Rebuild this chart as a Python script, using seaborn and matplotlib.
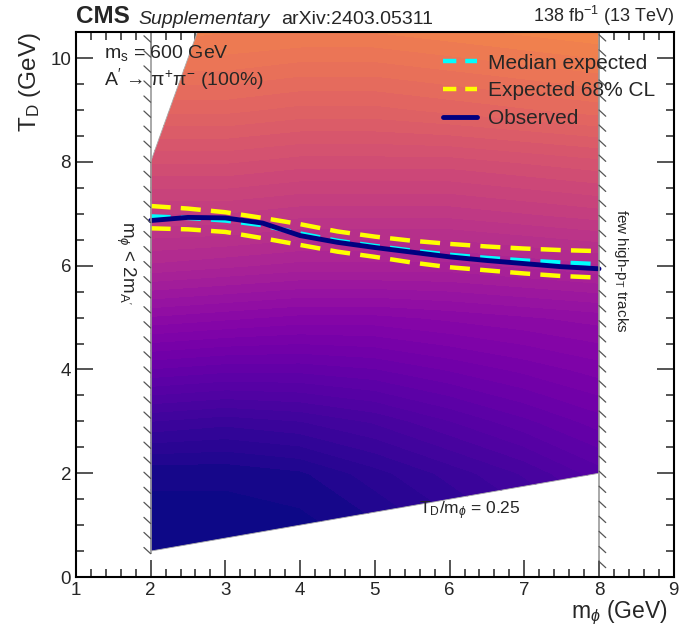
import numpy as np
import pandas as pd
import matplotlib
matplotlib.use("Agg")
import matplotlib.pyplot as plt
from matplotlib.patches import Polygon
from matplotlib.lines import Line2D
import seaborn as sns

# ---------------- data ----------------
m_phi = [2, 2.5, 3, 3.5, 4, 4.5, 5, 5.5, 6, 6.5, 7, 7.5, 8]
observed = [6.87, 6.93, 6.92, 6.82, 6.58, 6.45, 6.35, 6.26, 6.17, 6.10, 6.04, 5.98, 5.94]
median_exp = [6.95, 6.92, 6.87, 6.78, 6.62, 6.48, 6.38, 6.29, 6.21, 6.15, 6.10, 6.06, 6.03]
exp_up = [7.15, 7.10, 7.03, 6.92, 6.80, 6.66, 6.56, 6.48, 6.42, 6.37, 6.33, 6.30, 6.28]
exp_down = [6.72, 6.70, 6.65, 6.53, 6.40, 6.27, 6.17, 6.06, 5.97, 5.91, 5.85, 5.80, 5.77]

# colour field (relative limit level) on a coarse grid
grid_m = [2, 3, 4, 5, 6, 7, 8]
grid_T = [0, 1, 2, 3, 4, 5, 6, 7, 8, 9, 10, 10.5]
field = [
    [0.00, 0.00, 0.00, 0.01, 0.03, 0.06, 0.09],
    [0.00, 0.00, 0.00, 0.02, 0.05, 0.08, 0.11],
    [0.01, 0.01, 0.02, 0.05, 0.08, 0.11, 0.15],
    [0.09, 0.08, 0.09, 0.11, 0.14, 0.17, 0.20],
    [0.19, 0.18, 0.18, 0.19, 0.21, 0.23, 0.25],
    [0.29, 0.28, 0.27, 0.27, 0.28, 0.29, 0.30],
    [0.39, 0.38, 0.37, 0.37, 0.37, 0.38, 0.39],
    [0.46, 0.46, 0.45, 0.45, 0.45, 0.46, 0.47],
    [0.53, 0.53, 0.52, 0.52, 0.52, 0.53, 0.54],
    [0.60, 0.60, 0.59, 0.59, 0.60, 0.61, 0.62],
    [0.66, 0.66, 0.65, 0.65, 0.66, 0.67, 0.68],
    [0.69, 0.68, 0.68, 0.68, 0.69, 0.70, 0.71],
]

# ---------------- style ----------------
sns.set_theme(style="ticks")
plt.rcParams["font.family"] = ["Liberation Sans", "DejaVu Sans"]
plt.rcParams["mathtext.fontset"] = "custom"
plt.rcParams["mathtext.rm"] = "Liberation Sans"
plt.rcParams["mathtext.it"] = "Liberation Sans:italic"
plt.rcParams["mathtext.bf"] = "Liberation Sans:bold"
plt.rcParams["mathtext.sf"] = "Liberation Sans"

fig = plt.figure(figsize=(6.84, 6.27), dpi=100)
ax = fig.add_axes([0.111, 0.0797, 0.874, 0.869])

# colour field clipped to the allowed region
clip = Polygon([(2, 0.5), (8, 2.0), (8, 10.5), (2.625, 10.5), (2, 8.0)],
               closed=True, facecolor="none", edgecolor="none", transform=ax.transData)
ax.add_patch(clip)
cs = ax.contourf(grid_m, grid_T, np.array(field), levels=np.linspace(-0.01, 1, 61),
                 cmap="plasma", vmin=0, vmax=1)
cs.set_edgecolor("face")
cs.set_linewidth(0.6)
cs.set_clip_path(clip)

# limit curves
df = pd.DataFrame({"m": m_phi, "obs": observed, "med": median_exp,
                   "up": exp_up, "down": exp_down})
dash_y = (4.5, 2.3)
sns.lineplot(data=df, x="m", y="up", ax=ax, color="#ffff00", lw=3.2,
             estimator=None, sort=False).lines[-1].set_dashes(dash_y)
sns.lineplot(data=df, x="m", y="down", ax=ax, color="#ffff00", lw=3.2,
             estimator=None, sort=False).lines[-1].set_dashes(dash_y)
sns.lineplot(data=df, x="m", y="med", ax=ax, color="#00ffff", lw=3.2,
             estimator=None, sort=False).lines[-1].set_dashes(dash_y)
sns.lineplot(data=df, x="m", y="obs", ax=ax, color="#000080", lw=3.5,
             estimator=None, sort=False)
for ln in ax.lines:
    ln.set_solid_joinstyle("round")
    ln.set_dash_joinstyle("round")

# hatched exclusion boundaries
def hatch_vline(x, y0, y1, side):
    ax.plot([x, x], [y0, y1], color="#999999", lw=1.2, solid_capstyle="butt")
    ys = np.arange(y0, y1 + 1e-6, 0.29)
    dx, dy = 0.09, 0.12
    for y in ys:
        if side < 0:
            ax.plot([x, x - dx], [y, y + dy], color="#555555", lw=0.9)
        else:
            ax.plot([x, x + dx], [y, y - dy], color="#555555", lw=0.9)

hatch_vline(2, 0.45, 10.5, -1)
hatch_vline(8, 0.3, 10.5, +1)
ax.plot([2, 8], [0.5, 2.0], color="#aaaaaa", lw=0.6)
ax.plot([2, 2.625], [8.0, 10.5], color="#aaaaaa", lw=0.6)

# axes
ax.set_xlim(1, 9)
ax.set_ylim(0, 10.5)
ax.set_xticks(range(1, 10))
ax.set_yticks([0, 2, 4, 6, 8, 10])
ax.set_xticks(np.arange(1, 9.01, 0.2), minor=True)
ax.set_yticks(np.arange(0, 10.51, 0.5), minor=True)
ax.tick_params(which="both", direction="in", top=True, right=True, labelsize=13.5, width=1.1)
ax.tick_params(which="major", length=12)
ax.tick_params(which="minor", length=6)
for s in ax.spines.values():
    s.set_linewidth(1.5)
    s.set_color("black")
ax.set_xlabel(r"m$_{\phi}$ (GeV)", fontsize=16.5, ha="right")
ax.xaxis.set_label_coords(0.99, -0.04)
ax.set_ylabel(r"T$_\mathrm{D}$ (GeV)", fontsize=17.5, ha="right")
ax.yaxis.set_label_coords(-0.055, 1.0)

# header
ax.text(0.0, 1.008, "CMS", transform=ax.transAxes, fontsize=17.5, fontweight="bold",
        ha="left", va="bottom")
ax.text(0.105, 1.008, "Supplementary", transform=ax.transAxes, fontsize=14,
        style="italic", ha="left", va="bottom")
ax.text(0.343, 1.008, "arXiv:2403.05311", transform=ax.transAxes, fontsize=14,
        ha="left", va="bottom")
ax.text(1.0, 1.008, r"138 fb$^{-1}$ (13 TeV)", transform=ax.transAxes, fontsize=13,
        ha="right", va="bottom")

# annotations
ax.text(1.38, 10.1, r"m$_\mathrm{s}$ = 600 GeV", fontsize=14, ha="left", va="center")
ax.text(1.38, 9.6, r"A$^{\prime}$ → π$^{+}$π$^{-}$ (100%)", fontsize=14, ha="left", va="center")
ax.text(1.66, 6.05, r"m$_{\phi}$ < 2m$_{\mathrm{A}^{\prime}}$", fontsize=13.5, rotation=-90,
        ha="center", va="center")
ax.text(8.3, 5.9, r"few high-p$_\mathrm{T}$ tracks", fontsize=11, rotation=-90,
        ha="center", va="center")
ax.text(6.27, 1.27, r"T$_\mathrm{D}$/m$_{\phi}$ = 0.25", fontsize=12.5, ha="center", va="center")

# legend
handles = [
    Line2D([], [], color="#00ffff", lw=3.2, dashes=(3, 2)),
    Line2D([], [], color="#ffff00", lw=3.2, dashes=(3, 2)),
    Line2D([], [], color="#000080", lw=3.5),
]
ax.legend(handles, ["Median expected", "Expected 68% CL", "Observed"],
          loc="upper left", bbox_to_anchor=(0.583, 0.995), frameon=False, fontsize=15,
          handlelength=1.6, handletextpad=0.55, labelspacing=0.42)

fig.savefig("out.png", dpi=100)
